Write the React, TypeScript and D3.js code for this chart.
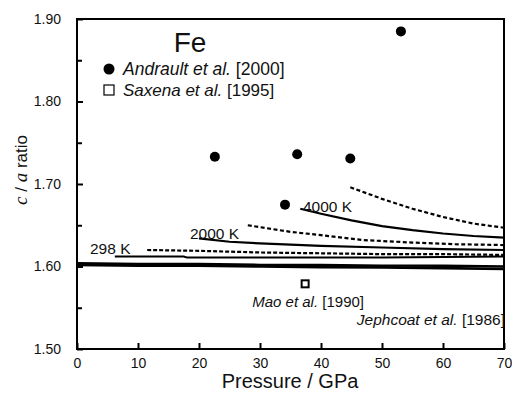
import React, { useEffect, useRef } from "react";
import * as d3 from "d3";

// Andrault et al. [2000] points
const andraultP = [22.6, 36.1, 44.8, 53.1, 34.1];
const andraultCA = [1.733, 1.736, 1.731, 1.885, 1.675];
// Saxena et al. [1995]
const saxenaP = [37.4];
const saxenaCA = [1.579];

// calculated curves (P in GPa, c/a)
const k4000dashP = [44.8, 50, 55, 60, 65, 70];
const k4000dashCA = [1.696, 1.682, 1.67, 1.66, 1.652, 1.647];
const k4000P = [36.6, 40, 45, 50, 55, 60, 65, 70];
const k4000CA = [1.67, 1.664, 1.656, 1.649, 1.644, 1.64, 1.637, 1.635];
const k2000dashP = [28, 35, 40, 47, 55, 62, 70];
const k2000dashCA = [1.65, 1.642, 1.638, 1.632, 1.629, 1.627, 1.626];
const k2000P = [20, 25, 30, 40, 50, 60, 70];
const k2000CA = [1.634, 1.63, 1.628, 1.625, 1.623, 1.621, 1.62];
const k298dashP = [11.5, 20, 30, 40, 50, 60, 70];
const k298dashCA = [1.62, 1.619, 1.617, 1.616, 1.615, 1.615, 1.614];
const k298P = [6.2, 17.5, 18, 30, 50, 70];
const k298CA = [1.612, 1.612, 1.611, 1.611, 1.611, 1.612];
// experimental fits
const maoP = [0, 10, 20, 30, 40, 50, 60, 70];
const maoCA = [1.604, 1.603, 1.603, 1.602, 1.602, 1.601, 1.601, 1.6];
const jephP = [0, 10, 20, 30, 40, 50, 60, 70];
const jephCA = [1.602, 1.601, 1.601, 1.6, 1.599, 1.599, 1.598, 1.597];

const yMajor = [1.5, 1.6, 1.7, 1.8, 1.9];
const yMinor = [1.55, 1.65, 1.75, 1.85];
const xMajor = [0, 10, 20, 30, 40, 50, 60, 70];

const zip = (p: number[], v: number[]) => p.map((d, i) => [d, v[i]] as [number, number]);

export default function App() {
  const ref = useRef<SVGSVGElement>(null);

  useEffect(() => {
    const svg = d3.select(ref.current);
    svg.selectAll("*").remove();

    const x = d3.scaleLinear().domain([0, 70]).range([77, 504]);
    const y = d3.scaleLinear().domain([1.5, 1.9]).range([349, 19]);
    const font = "Arial, 'Liberation Sans', sans-serif";

    const line = d3
      .line<[number, number]>()
      .x((d) => x(d[0]))
      .y((d) => y(d[1]));

    const curves = [
      { p: k4000dashP, v: k4000dashCA, dash: "4,2.5", w: 2.2 },
      { p: k4000P, v: k4000CA, dash: null, w: 2.2 },
      { p: k2000dashP, v: k2000dashCA, dash: "4,2.5", w: 2.2 },
      { p: k2000P, v: k2000CA, dash: null, w: 2.2 },
      { p: k298dashP, v: k298dashCA, dash: "4,2", w: 2.2 },
      { p: k298P, v: k298CA, dash: null, w: 2 },
      { p: maoP, v: maoCA, dash: null, w: 2.4 },
      { p: jephP, v: jephCA, dash: null, w: 2.6 },
    ];

    svg
      .append("g")
      .selectAll("path")
      .data(curves)
      .enter()
      .append("path")
      .attr("d", (c) => line(zip(c.p, c.v)))
      .attr("fill", "none")
      .attr("stroke", "#000")
      .attr("stroke-width", (c) => c.w)
      .attr("stroke-dasharray", (c) => c.dash);

    // axes (ticks inward)
    const yAxis = svg
      .append("g")
      .attr("transform", "translate(77,0)")
      .call(d3.axisLeft(y).tickValues(yMajor).tickSize(-6).tickPadding(16).tickFormat(d3.format(".2f")));
    yAxis.select(".domain").remove();
    yAxis.selectAll("line").attr("stroke-width", 2);
    yAxis.selectAll("text").attr("font-size", 14).attr("font-family", font).attr("fill", "#111");

    const yMin = svg
      .append("g")
      .attr("transform", "translate(77,0)")
      .call(d3.axisLeft(y).tickValues(yMinor).tickSize(-5).tickFormat(() => ""));
    yMin.select(".domain").remove();
    yMin.selectAll("line").attr("stroke-width", 2);

    const xAxis = svg
      .append("g")
      .attr("transform", "translate(0,349)")
      .call(d3.axisBottom(x).tickValues(xMajor).tickSize(-6).tickPadding(9));
    xAxis.select(".domain").remove();
    xAxis.selectAll("line").attr("stroke-width", 2);
    xAxis.selectAll("text").attr("font-size", 14).attr("font-family", font).attr("fill", "#111");

    // frame
    svg
      .append("rect")
      .attr("x", 77)
      .attr("y", 19)
      .attr("width", 427)
      .attr("height", 330)
      .attr("fill", "none")
      .attr("stroke", "#000")
      .attr("stroke-width", 2);

    // points
    svg
      .append("g")
      .selectAll("circle")
      .data(zip(andraultP, andraultCA))
      .enter()
      .append("circle")
      .attr("cx", (d) => x(d[0]))
      .attr("cy", (d) => y(d[1]))
      .attr("r", 5)
      .attr("fill", "#000");

    svg
      .append("g")
      .selectAll("rect")
      .data(zip(saxenaP, saxenaCA))
      .enter()
      .append("rect")
      .attr("x", (d) => x(d[0]) - 3.5)
      .attr("y", (d) => y(d[1]) - 3.5)
      .attr("width", 7)
      .attr("height", 7)
      .attr("fill", "#fff")
      .attr("stroke", "#000")
      .attr("stroke-width", 2);

    // titles & legend
    const txt = (
      tx: number,
      ty: number,
      size: number,
      parts: [string, boolean][],
      anchor = "start"
    ) => {
      const t = svg
        .append("text")
        .attr("x", tx)
        .attr("y", ty)
        .attr("font-size", size)
        .attr("font-family", font)
        .attr("fill", "#111")
        .attr("text-anchor", anchor);
      parts.forEach(([s, it]) => t.append("tspan").attr("font-style", it ? "italic" : "normal").text(s));
      return t;
    };

    txt(190, 52, 28, [["Fe", false]], "middle");
    svg.append("circle").attr("cx", 109).attr("cy", 69).attr("r", 5.5).attr("fill", "#000");
    txt(123, 75, 17.5, [["Andrault et al.", true], [" [2000]", false]]);
    svg
      .append("rect")
      .attr("x", 104)
      .attr("y", 85)
      .attr("width", 10)
      .attr("height", 10)
      .attr("fill", "#fff")
      .attr("stroke", "#000")
      .attr("stroke-width", 1.2);
    txt(123, 96, 17, [["Saxena et al.", true], [" [1995]", false]]);

    txt(303, 212, 15.5, [["4000 K", false]]);
    txt(190, 239, 15.5, [["2000 K", false]]);
    txt(90, 254, 15.5, [["298 K", false]]);
    txt(364, 307, 15, [["Mao et al.", true], [" [1990]", false]], "end");
    txt(505, 325, 15.5, [["Jephcoat et al.", true], [" [1986]", false]], "end");

    txt(290, 388, 20, [["Pressure / GPa", false]], "middle");
    const yt = txt(0, 0, 17, [["c", true], [" / ", false], ["a", true], [" ratio", false]], "middle").attr(
      "transform",
      "translate(27,170) rotate(-90)"
    );
    yt.selectAll("tspan")
      .filter((_, i) => i === 0 || i === 2)
      .attr("font-family", "'Liberation Serif', serif")
      .attr("font-size", 19);
  }, []);

  return (
    <svg
      ref={ref}
      width={512}
      height={394}
      style={{ position: "absolute", left: 0, top: 0, background: "#fff" }}
    />
  );
}
